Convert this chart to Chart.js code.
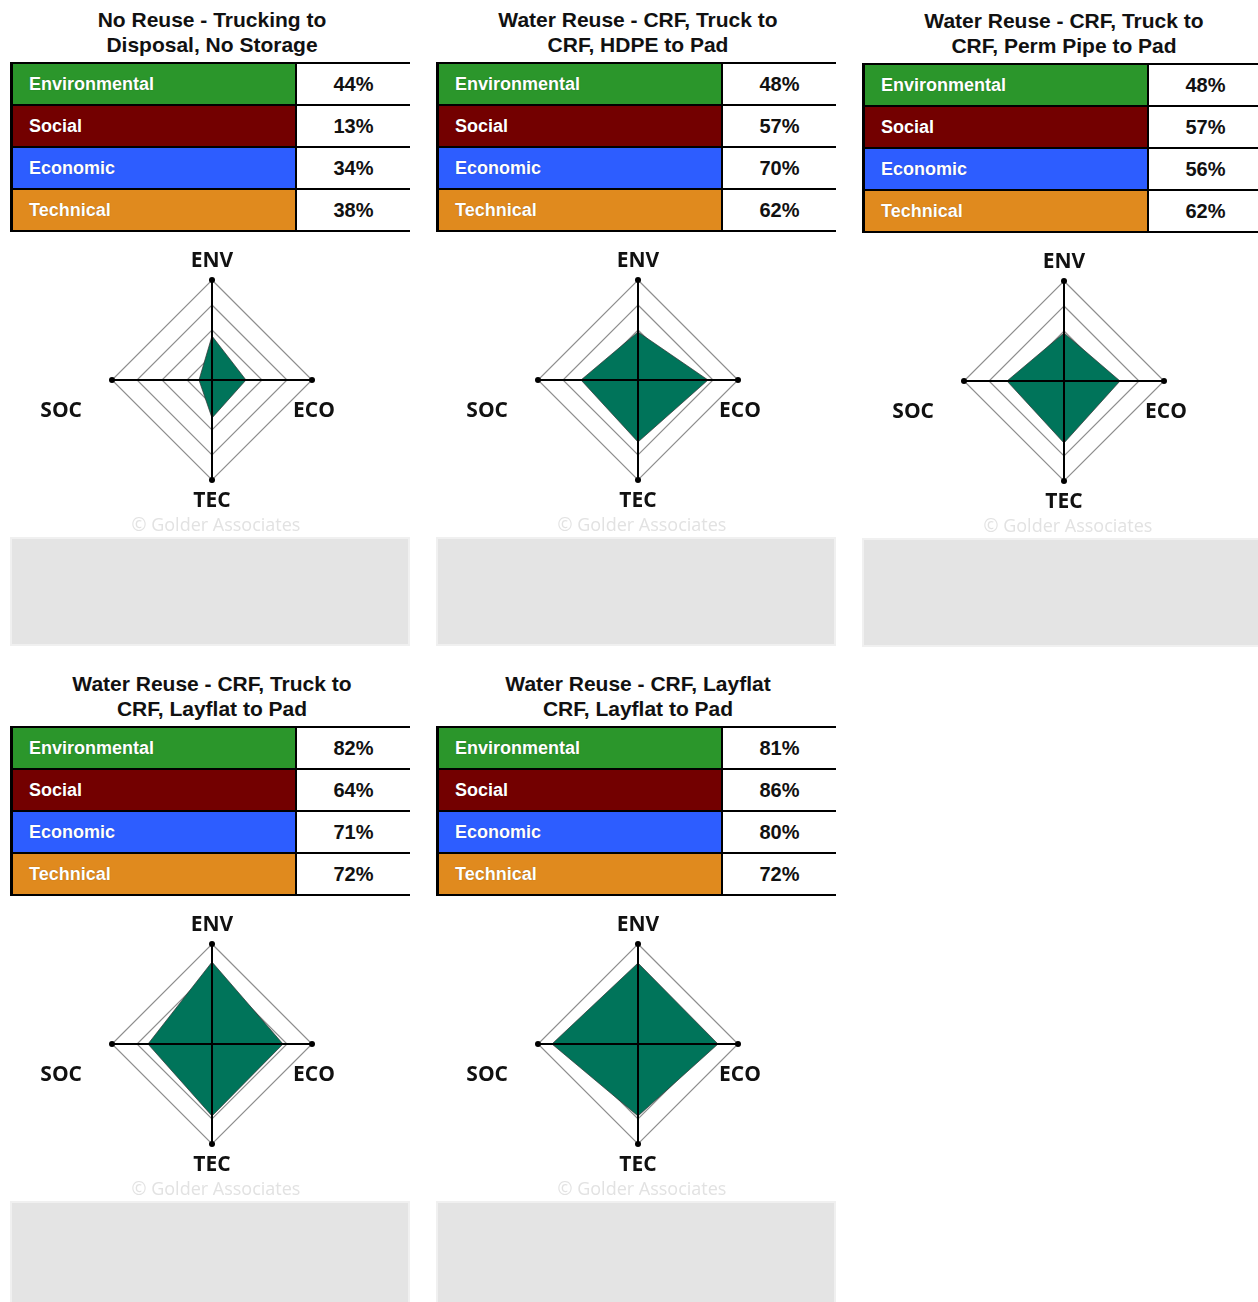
<!DOCTYPE html>
<html>
<head>
<meta charset="utf-8">
<script src="https://cdn.jsdelivr.net/npm/chart.js@4.4.0/dist/chart.umd.min.js"></script>
<style>
    html, body { margin: 0; padding: 0; background: #fff; }
    body { width: 1258px; height: 1302px; position: relative; overflow: hidden; }
    .panel { position: absolute; width: 404px; height: 640px; }
    .titulo { position: absolute; left: 0; top: 7px; width: 404px; text-align: center;
        font: bold 21px/25px "Liberation Sans", Arial, sans-serif; color: #111; white-space: pre-line; }
    table { position: absolute; top: 62px; left: 0; width: 400px; border-collapse: collapse; }
    td { height: 40px; padding: 0; border-top: 2px solid #000; border-bottom: 2px solid #000; }
    td.lab { width: 266px; padding-left: 16px; color: #fff; border-left: 3px solid #000; border-right: 2px solid #000;
        font: bold 18px "Liberation Sans", Arial, sans-serif; text-shadow: 0 0 1px rgba(0,0,0,0.35); }
    td.val { background: #fff; text-align: center; color: #111;
        font: bold 20px "Liberation Sans", Arial, sans-serif; }
    canvas { position: absolute; left: 0; top: 235px; }
    .marca { position: absolute; left: 0; top: 512px; width: 412px; text-align: center;
        font: 18px "Open Sans", sans-serif; color: #e2e2e2; }
    .caixa { position: absolute; left: 0; top: 537px; width: 396px; height: 105px;
        background: #e4e4e4; border: 2px solid #f0f0f0; }
</style>
</head>
<body>
<script>
// Títulos de cada cenário
const titulos = [
    'No Reuse - Trucking to\nDisposal, No Storage',
    'Water Reuse - CRF, Truck to\nCRF, HDPE to Pad',
    'Water Reuse - CRF, Truck to\nCRF, Perm Pipe to Pad',
    'Water Reuse - CRF, Truck to\nCRF, Layflat to Pad',
    'Water Reuse - CRF, Layflat\nCRF, Layflat to Pad'
];
const categorias = ['Environmental', 'Social', 'Economic', 'Technical'];
const coresCategorias = ['#2b962b', '#730000', '#2d5dff', '#e08a1e'];
const eixos = ['ENV', 'ECO', 'TEC', 'SOC']; // ordem no radar (topo, direita, baixo, esquerda)

// Notas por cenário (%)
const notasEnv = [44, 48, 48, 82, 81];
const notasSoc = [13, 57, 57, 64, 86];
const notasEco = [34, 70, 56, 71, 80];
const notasTec = [38, 62, 62, 72, 72];

const anelTicks = [25, 50, 75, 100];

// posição dos painéis
const painelX = [10, 436, 862, 10, 436];
const painelY = [0, 0, 1, 664, 664];

// desloca rótulos dos eixos a partir da ponta de cada eixo
const deslocRotulo = [
    { dx: 0, dy: -19, align: 'center' },
    { dx: -19, dy: 31, align: 'left' },
    { dx: 0, dy: 21, align: 'center' },
    { dx: -30, dy: 31, align: 'right' }
];

const eixosPlugin = {
    id: 'eixosPretos',
    afterDatasetsDraw(chart) {
        const r = chart.scales.r;
        const ctx = chart.ctx;
        const max = anelTicks[anelTicks.length - 1];
        const p = eixos.map((_, i) => r.getPointPositionForValue(i, max));
        ctx.save();
        ctx.strokeStyle = '#000';
        ctx.lineWidth = 2;
        ctx.beginPath();
        ctx.moveTo(p[0].x, p[0].y); ctx.lineTo(p[2].x, p[2].y);
        ctx.moveTo(p[1].x, p[1].y); ctx.lineTo(p[3].x, p[3].y);
        ctx.stroke();
        p.forEach(pt => {
            ctx.beginPath();
            ctx.arc(pt.x, pt.y, 3, 0, Math.PI * 2);
            ctx.fillStyle = '#000';
            ctx.fill();
        });
        ctx.font = 'bold 21px "Open Sans", sans-serif';
        ctx.fillStyle = '#111';
        ctx.textBaseline = 'middle';
        eixos.forEach((lab, i) => {
            const d = deslocRotulo[i];
            ctx.textAlign = d.align;
            ctx.fillText(lab, p[i].x + d.dx, p[i].y + d.dy);
        });
        ctx.restore();
    }
};

titulos.forEach((titulo, k) => {
    const painel = document.createElement('div');
    painel.className = 'panel';
    painel.style.left = painelX[k] + 'px';
    painel.style.top = painelY[k] + 'px';

    const t = document.createElement('div');
    t.className = 'titulo';
    t.textContent = titulo;
    painel.appendChild(t);

    // tabela de notas
    const valores = [notasEnv[k], notasSoc[k], notasEco[k], notasTec[k]];
    const tabela = document.createElement('table');
    categorias.forEach((cat, i) => {
        const tr = document.createElement('tr');
        const c1 = document.createElement('td');
        c1.className = 'lab';
        c1.style.background = coresCategorias[i];
        c1.textContent = cat;
        const c2 = document.createElement('td');
        c2.className = 'val';
        c2.textContent = valores[i] + '%';
        tr.appendChild(c1); tr.appendChild(c2);
        tabela.appendChild(tr);
    });
    painel.appendChild(tabela);

    const canvas = document.createElement('canvas');
    canvas.width = 400;
    canvas.height = 290;
    painel.appendChild(canvas);

    const marca = document.createElement('div');
    marca.className = 'marca';
    marca.textContent = '\u00A9 Golder Associates';
    painel.appendChild(marca);

    const caixa = document.createElement('div');
    caixa.className = 'caixa';
    painel.appendChild(caixa);

    document.body.appendChild(painel);

    new Chart(canvas.getContext('2d'), {
        type: 'radar',
        data: {
            labels: eixos,
            datasets: [{
                data: [notasEnv[k], notasEco[k], notasTec[k], notasSoc[k]],
                backgroundColor: '#00745a',
                borderColor: 'rgba(50,50,50,0.7)',
                borderWidth: 1,
                pointRadius: 0,
                fill: true
            }]
        },
        options: {
            responsive: false,
            animation: false,
            layout: { padding: { left: 102, right: 98, top: 45, bottom: 45 } },
            plugins: { legend: { display: false }, tooltip: { enabled: false } },
            scales: {
                r: {
                    min: 0,
                    max: anelTicks[anelTicks.length - 1],
                    ticks: { display: false, stepSize: anelTicks[0] },
                    grid: { color: '#8e8e8e', lineWidth: 1.2 },
                    angleLines: { display: false },
                    pointLabels: { display: false }
                }
            }
        },
        plugins: [eixosPlugin]
    });
});
</script>
</body>
</html>
